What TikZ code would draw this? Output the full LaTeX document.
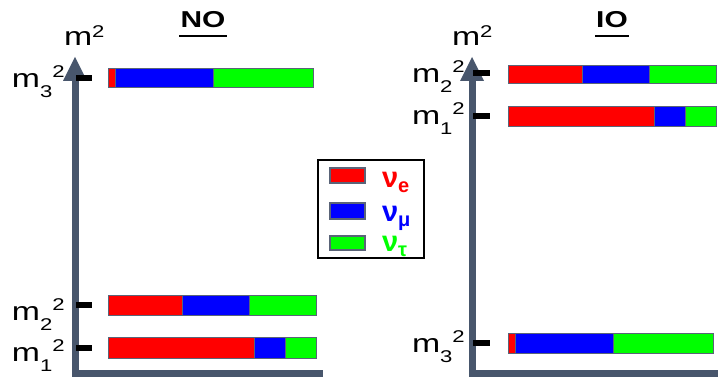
\documentclass[tikz,border=0pt]{standalone}
\usepackage{fontspec}
\setmainfont{Liberation Sans}
\newfontfamily\widefont{Liberation Sans}[FakeStretch=1.3]
\definecolor{axisc}{RGB}{72,86,108}
\definecolor{barline}{RGB}{90,100,120}
\definecolor{nured}{RGB}{255,0,0}
\definecolor{nublue}{RGB}{0,0,255}
\definecolor{nugreen}{RGB}{0,255,0}
\newcommand{\msq}[1]{\widefont\fontsize{26}{26}\selectfont m\raisebox{-10pt}{\fontsize{17}{17}\selectfont #1}\raisebox{10pt}{\fontsize{17}{17}\selectfont 2}}
\newcommand{\mtop}{\widefont\fontsize{26}{26}\selectfont m\raisebox{8pt}{\fontsize{17}{17}\selectfont 2}}
\newcommand{\nulab}[1]{\fontsize{29}{29}\selectfont\bfseries ν\raisebox{-5pt}{\fontsize{20}{20}\selectfont #1}}
\begin{document}
\begin{tikzpicture}[x=1pt,y=-1pt,
  lab/.style={anchor=base west,inner sep=0pt,outer sep=0pt},
  axisline/.style={draw=axisc,line width=7pt,line join=miter},
  axishead/.style={fill=axisc},
  tickmark/.style={draw=black,line width=6pt},
  seg/.style={draw=barline,line width=0.9pt},
  swatch/.style={draw=barline,line width=2pt},
  title/.style={anchor=base,inner sep=0pt,font=\widefont\fontsize{23}{23}\selectfont\bfseries}]
\useasboundingbox (0,0) rectangle (718,379);
% ---------- left axis (NO)
\coordinate (LA0) at (75,80);
\coordinate (LAc) at (75,374);
\coordinate (LAe) at (323,374);
\draw[axisline] (LA0) -- (LAc) -- (LAe);
\fill[axishead] (63,81) -- (75,57) -- (87,81) -- cycle;
\node[lab] (lm) at (64,46) {\mtop};
\node[title] (NO) at (203,28) {NO};
\draw[line width=2pt] (179,36) -- (227,36);
% ticks
\draw[tickmark] (76,78) -- (92,78);
\draw[tickmark] (76,305) -- (92,305);
\draw[tickmark] (76,348) -- (92,348);
\node[lab] (l3) at (12,88) {\msq{3}};
\node[lab] (l2) at (12,321) {\msq{2}};
\node[lab] (l1) at (12,362) {\msq{1}};
% bars NO
\filldraw[seg,fill=nured]   (108,68) rectangle (115,87);
\filldraw[seg,fill=nublue]  (115,68) rectangle (213,87);
\filldraw[seg,fill=nugreen] (213,68) rectangle (313,87);
\filldraw[seg,fill=nured]   (108,295) rectangle (182,315);
\filldraw[seg,fill=nublue]  (182,295) rectangle (249,315);
\filldraw[seg,fill=nugreen] (249,295) rectangle (316,315);
\filldraw[seg,fill=nured]   (108,337) rectangle (254,358);
\filldraw[seg,fill=nublue]  (254,337) rectangle (285,358);
\filldraw[seg,fill=nugreen] (285,337) rectangle (316,358);
% ---------- right axis (IO)
\coordinate (RA0) at (472,80);
\coordinate (RAc) at (472,374);
\coordinate (RAe) at (718,374);
\draw[axisline] (RA0) -- (RAc) -- (RAe);
\fill[axishead] (460,81) -- (472,57) -- (484,81) -- cycle;
\node[lab] (rm) at (452,46) {\mtop};
\node[title] (IO) at (612,28) {IO};
\draw[line width=2pt] (595,36) -- (629,36);
\draw[tickmark] (473,73) -- (490,73);
\draw[tickmark] (473,116) -- (490,116);
\draw[tickmark] (473,343) -- (490,343);
\node[lab] (r2) at (412,83) {\msq{2}};
\node[lab] (r1) at (412,125) {\msq{1}};
\node[lab] (r3) at (412,353) {\msq{3}};
% bars IO
\filldraw[seg,fill=nured]   (508,65) rectangle (582,83);
\filldraw[seg,fill=nublue]  (582,65) rectangle (649,83);
\filldraw[seg,fill=nugreen] (649,65) rectangle (716,83);
\filldraw[seg,fill=nured]   (508,106) rectangle (654,126);
\filldraw[seg,fill=nublue]  (654,106) rectangle (685,126);
\filldraw[seg,fill=nugreen] (685,106) rectangle (716,126);
\filldraw[seg,fill=nured]   (508,333) rectangle (515,353);
\filldraw[seg,fill=nublue]  (515,333) rectangle (613,353);
\filldraw[seg,fill=nugreen] (613,333) rectangle (713,353);
% ---------- legend
\draw[line width=2pt,draw=black,fill=white] (318,160) rectangle (424,258);
\filldraw[swatch,fill=nured]   (330,168) rectangle (365,183);
\filldraw[swatch,fill=nublue]  (330,203) rectangle (365,219);
\filldraw[swatch,fill=nugreen] (330,236) rectangle (365,250);
\node[lab,text=nured]   (ne) at (382,188) {\nulab{e}};
\node[lab,text=nublue]  (nm) at (382,222) {\nulab{μ}};
\node[lab,text=nugreen] (nt) at (382,252) {\nulab{τ}};
\end{tikzpicture}
\end{document}
